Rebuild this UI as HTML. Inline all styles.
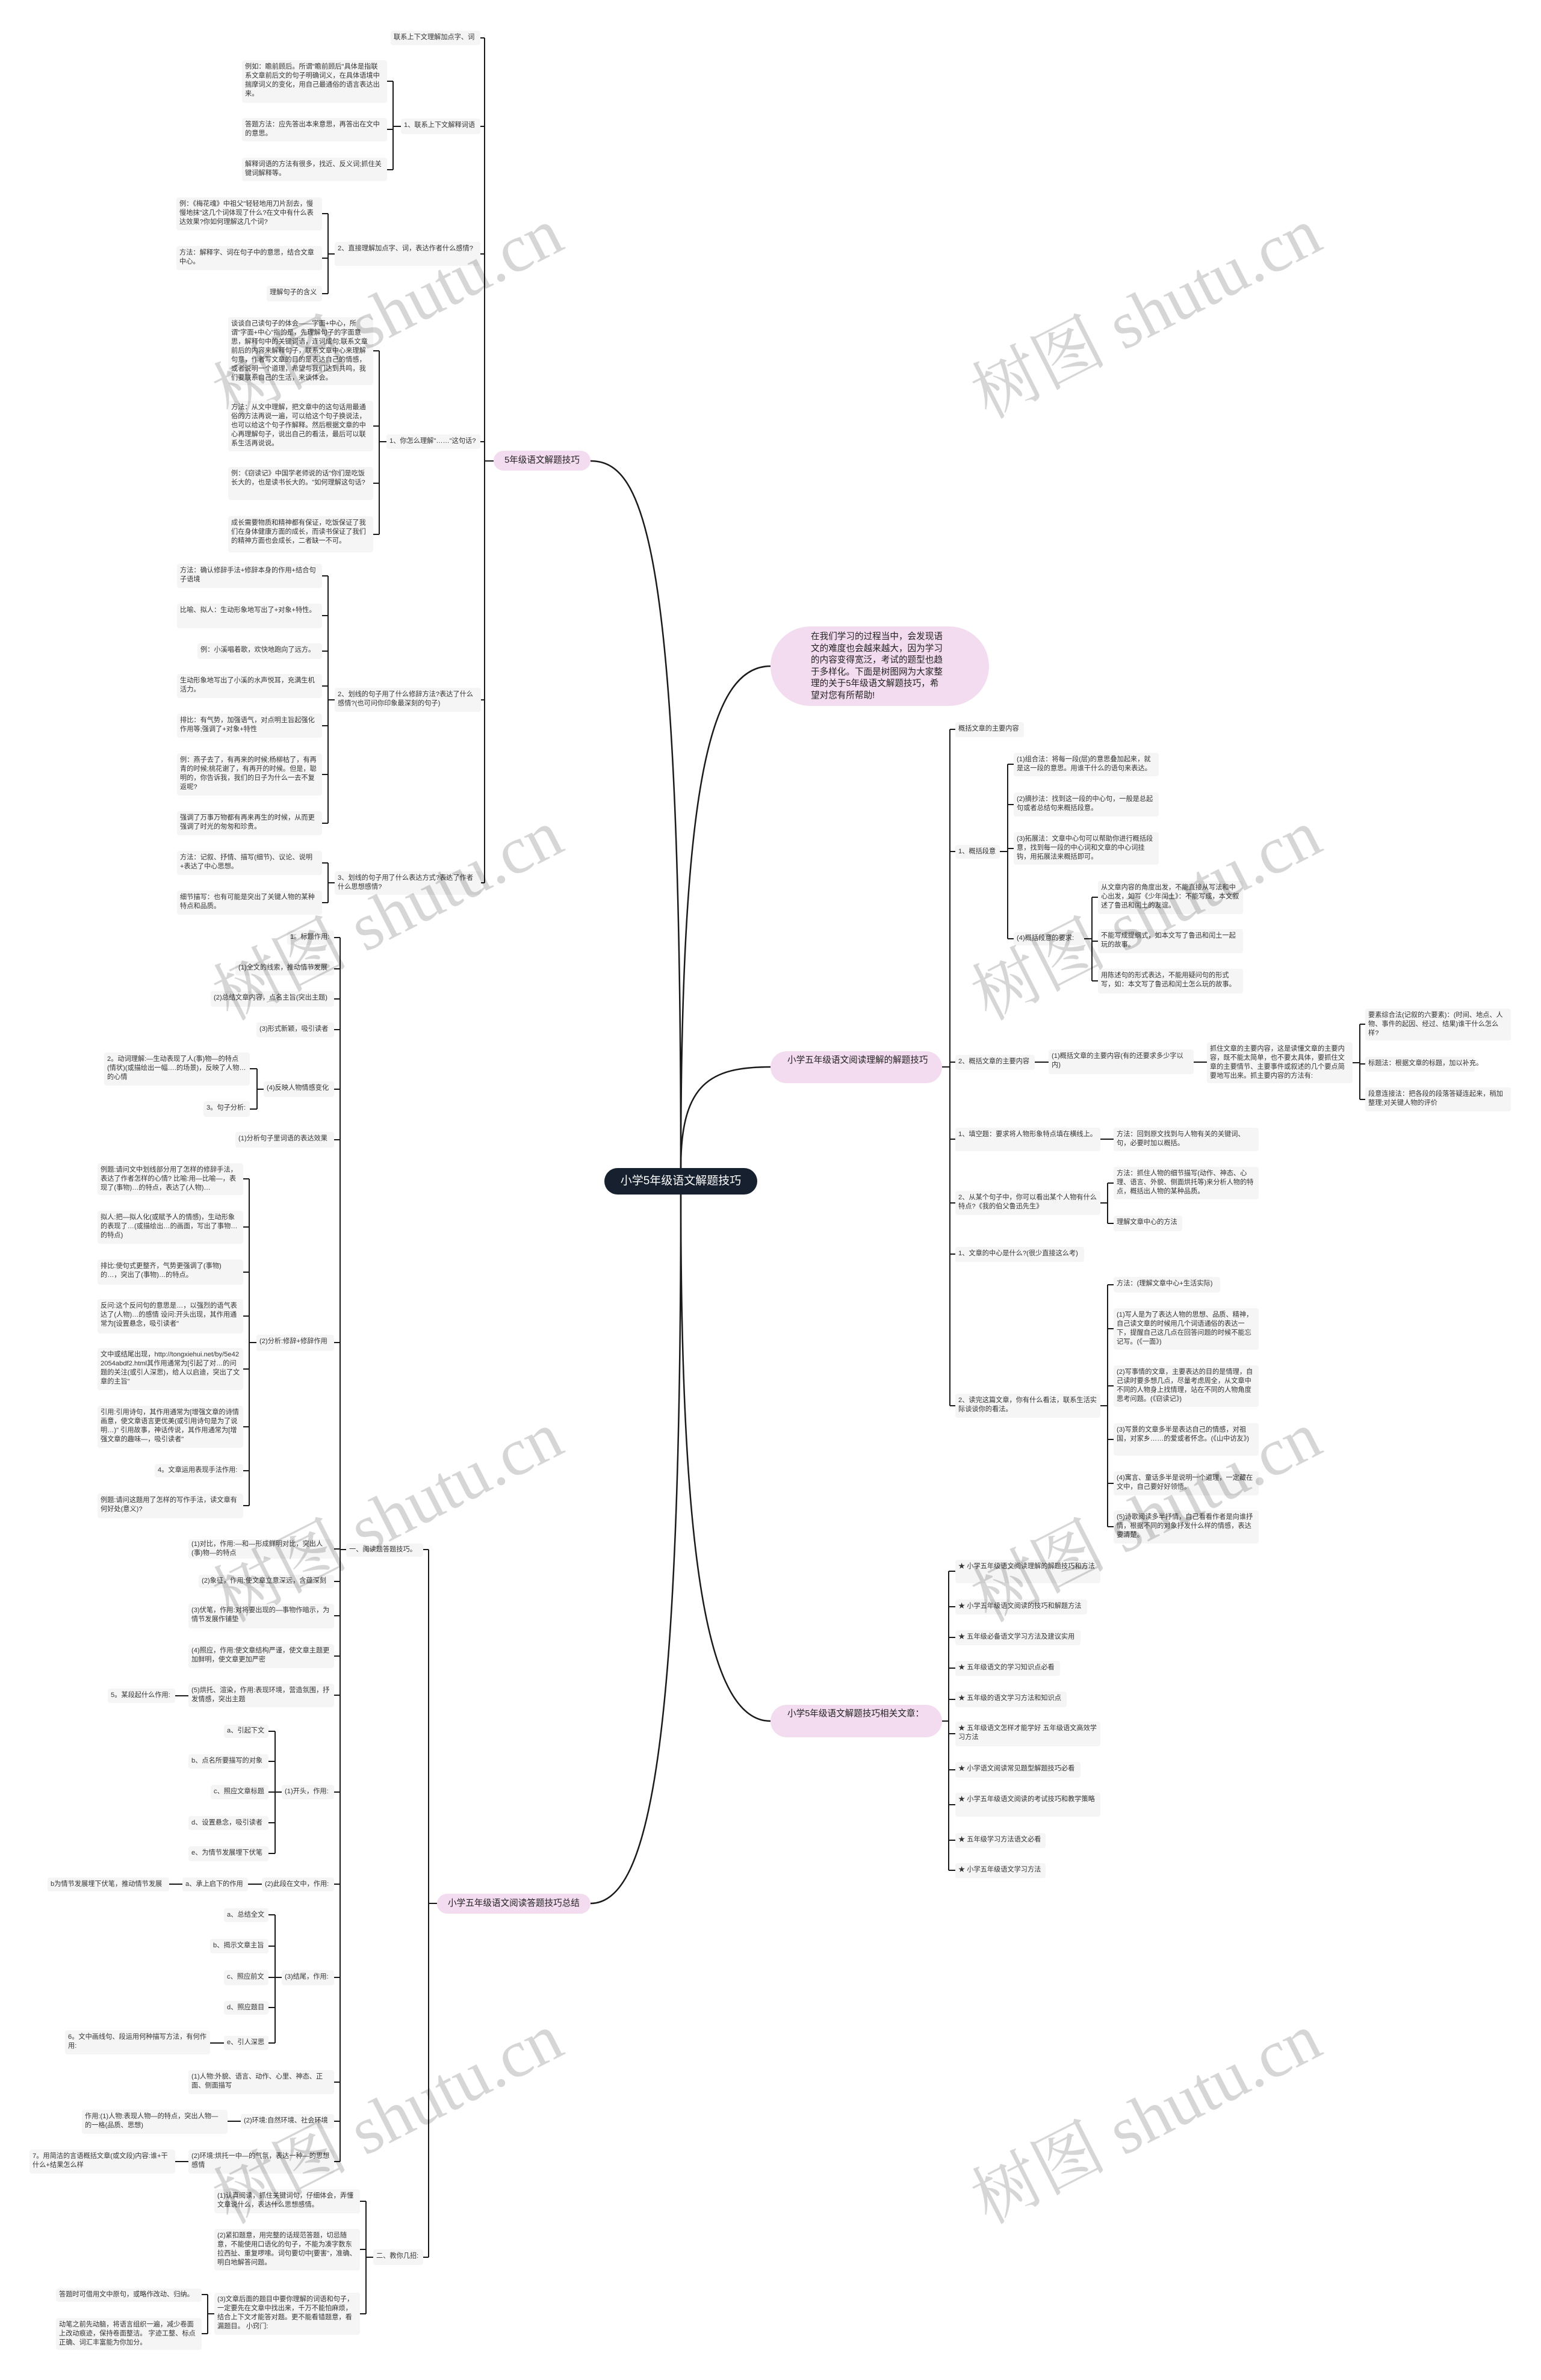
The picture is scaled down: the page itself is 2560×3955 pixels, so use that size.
<!DOCTYPE html>
<html><head><meta charset="utf-8"><style>
html,body{margin:0;padding:0;background:#fff;}
body{width:2560px;height:3955px;position:relative;overflow:hidden;font-family:"Liberation Sans","Noto Sans CJK SC",sans-serif;}
.n{position:absolute;background:#f5f5f5;border-radius:4px;font-size:11.2px;line-height:15px;color:#333;padding:4px 5px;box-sizing:border-box;word-break:break-all;overflow:visible;}
.n[style*="height:2"]{white-space:nowrap;}
.b{position:absolute;background:#f3dcef;border-radius:30px;font-size:14.6px;line-height:19.5px;color:#222;box-sizing:border-box;word-break:break-all;}
.wm{position:absolute;font-family:"Liberation Serif","Noto Serif CJK SC",serif;font-size:112px;color:rgba(0,0,0,0.16);white-space:nowrap;transform:translate(-50%,-50%) rotate(-27deg);z-index:5;}
svg{position:absolute;left:0;top:0;}
</style></head><body>
<svg width="2560" height="3955" fill="none" stroke="#1a1a1a" stroke-width="2">
<path d="M981,766 C1070,766 1131,900 1131,1941" stroke-width="2.5"/>
<path d="M1131,1941 C1131,1300 1180,1107 1280,1107" stroke-width="2.5"/>
<path d="M1131,1941 C1131,1800 1180,1773 1280,1773" stroke-width="2.5"/>
<path d="M1131,1985 C1131,2620 1180,2860 1280,2860" stroke-width="2.5"/>
<path d="M1131,1985 C1131,2900 1080,3163 981,3163" stroke-width="2.5"/>
<path d="M820,766 H805 M805,63 V1467 M798,63 H805 M798,210 H805 M798,422 H805 M798,734 H805 M798,1163 H805 M798,1467 H805"/>
<path d="M666,210 H653 M653,135 V282 M643,135 H653 M643,215 H653 M643,282 H653"/>
<path d="M556,422 H545 M545,355 V488 M535,355 H545 M535,429 H545 M535,488 H545"/>
<path d="M642,734 H630 M630,583 V888 M620,583 H630 M620,708 H630 M620,803 H630 M620,888 H630"/>
<path d="M556,1163 H545 M545,957 V1368 M535,957 H545 M535,1023 H545 M535,1082 H545 M535,1140 H545 M535,1206 H545 M535,1287 H545 M535,1368 H545"/>
<path d="M556,1467 H545 M545,1434 V1500 M535,1434 H545 M535,1500 H545"/>
<path d="M726,3163 H712 M712,2575 V3751 M703,2575 H712 M703,3751 H712"/>
<path d="M575,2575 H565 M565,1558 V3592 M555,1558 H565 M555,1610 H565 M555,1660 H565 M555,1711 H565 M555,1810 H565 M555,1894 H565 M555,2231 H565 M555,2574 H565 M555,2628 H565 M555,2685 H565 M555,2752 H565 M555,2817 H565 M555,2978 H565 M555,3131 H565 M555,3286 H565 M555,3460 H565 M555,3525 H565 M555,3592 H565"/>
<path d="M438,1810 H427 M427,1776 V1843 M415,1776 H427 M415,1843 H427"/>
<path d="M426,2231 H414 M414,1959 V2502 M404,1959 H414 M404,2039 H414 M404,2114 H414 M404,2187 H414 M404,2275 H414 M404,2371 H414 M404,2444 H414 M404,2502 H414"/>
<path d="M313,2818 H291"/>
<path d="M468,2978 H457 M457,2877 V3080 M446,2877 H457 M446,2927 H457 M446,2978 H457 M446,3029 H457 M446,3080 H457"/>
<path d="M435,3131 H412 M303,3131 H281"/>
<path d="M468,3286 H457 M457,3182 V3395 M446,3182 H457 M446,3234 H457 M446,3286 H457 M446,3336 H457 M446,3395 H457"/>
<path d="M372,3395 H349 M400,3525 H378 M313,3592 H291"/>
<path d="M620,3751 H608 M608,3658 V3845 M598,3658 H608 M598,3738 H608 M598,3845 H608"/>
<path d="M356,3845 H345 M345,3813 V3878 M335,3813 H345 M335,3878 H345"/>
<path d="M1565,1773 H1578 M1578,1212 V2336 M1587,1212 H1578 M1587,1415 H1578 M1587,1765 H1578 M1587,1893 H1578 M1587,1999 H1578 M1587,2084 H1578 M1587,2336 H1578"/>
<path d="M1661,1415 H1674 M1674,1270 V1560 M1684,1270 H1674 M1684,1337 H1674 M1684,1410 H1674 M1684,1560 H1674"/>
<path d="M1801,1560 H1814 M1814,1491 V1630 M1824,1491 H1814 M1824,1564 H1814 M1824,1630 H1814"/>
<path d="M1719,1765 H1742 M1983,1765 H2005 M2247,1766 H2259 M2259,1702 V1827 M2268,1702 H2259 M2268,1768 H2259 M2268,1827 H2259"/>
<path d="M1828,1893 H1850"/>
<path d="M1828,1999 H1840 M1840,1966 V2033 M1850,1966 H1840 M1850,2033 H1840"/>
<path d="M1828,2336 H1840 M1840,2135 V2537 M1850,2135 H1840 M1850,2208 H1840 M1850,2303 H1840 M1850,2392 H1840 M1850,2465 H1840 M1850,2537 H1840"/>
<path d="M1565,2860 H1576 M1576,2611 V3108 M1587,2611 H1576 M1587,2670 H1576 M1587,2721 H1576 M1587,2772 H1576 M1587,2824 H1576 M1587,2881 H1576 M1587,2941 H1576 M1587,2999 H1576 M1587,3058 H1576 M1587,3108 H1576"/>
</svg>

<div style="position:absolute;left:1004px;top:1941px;width:254px;height:44px;background:#17202e;border-radius:22px;color:#fff;font-size:19px;line-height:44px;text-align:center;">小学5年级语文解题技巧</div>

<div class="b" style="left:820px;top:749px;width:161px;height:33px;line-height:33px;text-align:center;">5年级语文解题技巧</div>
<div class="b" style="left:1280px;top:1041px;width:363px;height:132px;border-radius:66px;padding:8px 70px 0 67px;">在我们学习的过程当中，会发现语文的难度也会越来越大，因为学习的内容变得宽泛，考试的题型也趋于多样化。下面是树图网为大家整理的关于5年级语文解题技巧，希望对您有所帮助!</div>
<div class="b" style="left:1280px;top:1747px;width:285px;height:53px;padding:6px 20px 0 28px;">小学五年级语文阅读理解的解题技巧</div>
<div class="b" style="left:726px;top:3147px;width:255px;height:33px;line-height:33px;text-align:center;">小学五年级语文阅读答题技巧总结</div>
<div class="b" style="left:1280px;top:2833px;width:285px;height:54px;padding:6px 20px 0 28px;">小学5年级语文解题技巧相关文章：</div>

<div class="n" style="left:649px;top:51px;width:149px;height:24px;">联系上下文理解加点字、词</div>
<div class="n" style="left:666px;top:197px;width:132px;height:26px;">1、联系上下文解释词语</div>
<div class="n" style="left:402px;top:100px;width:241px;height:71px;">例如：瞻前顾后。所谓"瞻前顾后"具体是指联系文章前后文的句子明确词义，在具体语境中揣摩词义的变化，用自己最通俗的语言表达出来。</div>
<div class="n" style="left:402px;top:196px;width:241px;height:39px;">答题方法：应先答出本来意思，再答出在文中的意思。</div>
<div class="n" style="left:402px;top:262px;width:241px;height:39px;">解释词语的方法有很多，找近、反义词;抓住关键词解释等。</div>
<div class="n" style="left:556px;top:402px;width:242px;height:40px;">2、直接理解加点字、词，表达作者什么感情?</div>
<div class="n" style="left:293px;top:328px;width:242px;height:55px;">例：《梅花魂》中祖父"轻轻地用刀片刮去，慢慢地抹"这几个词体现了什么?在文中有什么表达效果?你如何理解这几个词?</div>
<div class="n" style="left:293px;top:409px;width:242px;height:40px;">方法：解释字、词在句子中的意思，结合文章中心。</div>
<div class="n" style="left:443px;top:475px;width:92px;height:26px;">理解句子的含义</div>
<div class="n" style="left:642px;top:722px;width:156px;height:24px;">1、你怎么理解"……"这句话?</div>
<div class="n" style="left:379px;top:527px;width:241px;height:113px;">谈谈自己读句子的体会——字面+中心，所谓"字面+中心"指的是，先理解句子的字面意思，解释句中的关键词语，连词成句;联系文章前后的内容来解释句子，联系文章中心来理解句意，作者写文章的目的是表达自己的情感，或者说明一个道理，希望与我们达到共鸣，我们要联系自己的生活，来谈体会。</div>
<div class="n" style="left:379px;top:666px;width:241px;height:84px;">方法：从文中理解，把文章中的这句话用最通俗的方法再说一遍，可以给这个句子换说法，也可以给这个句子作解释。然后根据文章的中心再理解句子，说出自己的看法，最后可以联系生活再说说。</div>
<div class="n" style="left:379px;top:776px;width:241px;height:55px;">例：《窃读记》中国学老师说的话"你们是吃饭长大的，也是读书长大的。"如何理解这句话?</div>
<div class="n" style="left:379px;top:858px;width:241px;height:60px;">成长需要物质和精神都有保证，吃饭保证了我们在身体健康方面的成长，而读书保证了我们的精神方面也会成长，二者缺一不可。</div>
<div class="n" style="left:556px;top:1143px;width:243px;height:40px;">2、划线的句子用了什么修辞方法?表达了什么感情?(也可问你印象最深刻的句子)</div>
<div class="n" style="left:294px;top:937px;width:241px;height:40px;">方法：确认修辞手法+修辞本身的作用+结合句子语境</div>
<div class="n" style="left:294px;top:1003px;width:241px;height:41px;">比喻、拟人：生动形象地写出了+对象+特性。</div>
<div class="n" style="left:328px;top:1069px;width:207px;height:26px;">例：小溪唱着歌，欢快地跑向了远方。</div>
<div class="n" style="left:294px;top:1120px;width:241px;height:40px;">生动形象地写出了小溪的水声悦耳，充满生机活力。</div>
<div class="n" style="left:294px;top:1186px;width:241px;height:40px;">排比：有气势，加强语气，对点明主旨起强化作用等;强调了+对象+特性</div>
<div class="n" style="left:294px;top:1252px;width:241px;height:70px;">例：燕子去了，有再来的时候;杨柳枯了，有再青的时候;桃花谢了，有再开的时候。但是，聪明的，你告诉我，我们的日子为什么一去不复返呢?</div>
<div class="n" style="left:294px;top:1348px;width:241px;height:40px;">强调了万事万物都有再来再生的时候，从而更强调了时光的匆匆和珍贵。</div>
<div class="n" style="left:556px;top:1448px;width:243px;height:39px;">3、划线的句子用了什么表达方式?表达了作者什么思想感情?</div>
<div class="n" style="left:294px;top:1414px;width:241px;height:40px;">方法：记叙、抒情、描写(细节)、议论、说明+表达了中心思想。</div>
<div class="n" style="left:294px;top:1480px;width:241px;height:40px;">细节描写：也有可能是突出了关键人物的某种特点和品质。</div>

<div class="n" style="left:575px;top:2565px;width:128px;height:22px;padding-top:3px;">一、阅读题答题技巧。</div>
<div class="n" style="left:620px;top:3738px;width:83px;height:26px;">二、教你几招:</div>
<div class="n" style="left:477px;top:1546px;width:78px;height:24px;">1。标题作用:</div>
<div class="n" style="left:391px;top:1597px;width:164px;height:24px;">(1)全文的线索，推动情节发展</div>
<div class="n" style="left:350px;top:1647px;width:205px;height:26px;">(2)总结文章内容，点名主旨(突出主题)</div>
<div class="n" style="left:426px;top:1699px;width:129px;height:25px;">(3)形式新颖，吸引读者</div>
<div class="n" style="left:438px;top:1797px;width:117px;height:26px;">(4)反映人物情感变化</div>
<div class="n" style="left:173px;top:1749px;width:242px;height:55px;">2。动词理解:—生动表现了人(事)物—的特点(情状)(或描绘出一幅….的场景)，反映了人物…的心情</div>
<div class="n" style="left:338px;top:1830px;width:77px;height:26px;">3。句子分析:</div>
<div class="n" style="left:391px;top:1881px;width:164px;height:26px;">(1)分析句子里词语的表达效果</div>
<div class="n" style="left:426px;top:2218px;width:129px;height:27px;">(2)分析:修辞+修辞作用</div>
<div class="n" style="left:162px;top:1933px;width:242px;height:53px;">例题:请问文中划线部分用了怎样的修辞手法，表达了作者怎样的心情? 比喻:用—比喻—，表现了(事物)…的特点，表达了(人物)…</div>
<div class="n" style="left:162px;top:2012px;width:242px;height:55px;">拟人:把—拟人化(或赋予人的情感)，生动形象的表现了…(或描绘出…的画面，写出了事物…的特点)</div>
<div class="n" style="left:162px;top:2093px;width:242px;height:42px;">排比:使句式更整齐，气势更强调了(事物)的…，突出了(事物)…的特点。</div>
<div class="n" style="left:162px;top:2159px;width:242px;height:57px;">反问:这个反问句的意思是…，以强烈的语气表达了(人物)…的感情 设问:开头出现，其作用通常为[设置悬念，吸引读者"</div>
<div class="n" style="left:162px;top:2240px;width:242px;height:70px;">文中或结尾出现，http://tongxiehui.net/by/5e422054abdf2.html其作用通常为[引起了对…的问题的关注(或引人深思)，给人以启迪，突出了文章的主旨"</div>
<div class="n" style="left:162px;top:2336px;width:242px;height:70px;">引用:引用诗句，其作用通常为[增强文章的诗情画意，使文章语言更优美(或引用诗句是为了说明…)" 引用故事，神话传说，其作用通常为[增强文章的趣味—，吸引读者"</div>
<div class="n" style="left:257px;top:2433px;width:147px;height:22px;padding-top:3px;">4。文章运用表现手法作用:</div>
<div class="n" style="left:162px;top:2482px;width:242px;height:41px;">例题:请问这题用了怎样的写作手法，读文章有何好处(意义)?</div>
<div class="n" style="left:313px;top:2558px;width:242px;height:32px;padding-top:1px;">(1)对比，作用:—和—形成鲜明对比，突出人(事)物—的特点</div>
<div class="n" style="left:330px;top:2617px;width:225px;height:22px;padding-top:3px;">(2)象征，作用:使文章立意深远，含蕴深刻</div>
<div class="n" style="left:313px;top:2665px;width:242px;height:41px;">(3)伏笔，作用:对将要出现的—事物作暗示，为情节发展作铺垫</div>
<div class="n" style="left:313px;top:2732px;width:242px;height:40px;">(4)照应，作用:使文章结构严谨，使文章主题更加鲜明，使文章更加严密</div>
<div class="n" style="left:313px;top:2798px;width:242px;height:39px;">(5)烘托、渲染，作用:表现环境，营造氛围，抒发情感，突出主题</div>
<div class="n" style="left:179px;top:2806px;width:112px;height:24px;">5。某段起什么作用:</div>
<div class="n" style="left:468px;top:2966px;width:87px;height:24px;">(1)开头，作用:</div>
<div class="n" style="left:372px;top:2866px;width:74px;height:22px;padding-top:3px;">a、引起下文</div>
<div class="n" style="left:313px;top:2915px;width:133px;height:24px;">b、点名所要描写的对象</div>
<div class="n" style="left:350px;top:2966px;width:96px;height:24px;">c、照应文章标题</div>
<div class="n" style="left:313px;top:3018px;width:133px;height:23px;">d、设置悬念，吸引读者</div>
<div class="n" style="left:313px;top:3068px;width:133px;height:25px;">e、为情节发展埋下伏笔</div>
<div class="n" style="left:435px;top:3120px;width:120px;height:23px;">(2)此段在文中，作用:</div>
<div class="n" style="left:303px;top:3120px;width:109px;height:23px;">a、承上启下的作用</div>
<div class="n" style="left:79px;top:3120px;width:202px;height:23px;">b为情节发展埋下伏笔，推动情节发展</div>
<div class="n" style="left:468px;top:3274px;width:87px;height:25px;">(3)结尾，作用:</div>
<div class="n" style="left:372px;top:3171px;width:74px;height:23px;">a、总结全文</div>
<div class="n" style="left:349px;top:3222px;width:97px;height:24px;">b、揭示文章主旨</div>
<div class="n" style="left:372px;top:3274px;width:74px;height:25px;">c、照应前文</div>
<div class="n" style="left:372px;top:3325px;width:74px;height:23px;">d、照应题目</div>
<div class="n" style="left:372px;top:3383px;width:74px;height:24px;">e、引人深思</div>
<div class="n" style="left:108px;top:3374px;width:241px;height:40px;">6。文中画线句、段运用何种描写方法，有何作用:</div>
<div class="n" style="left:313px;top:3440px;width:242px;height:40px;">(1)人物:外貌、语言、动作、心里、神态、正面、侧面描写</div>
<div class="n" style="left:400px;top:3513px;width:155px;height:24px;">(2)环境:自然环境、社会环境</div>
<div class="n" style="left:136px;top:3506px;width:242px;height:40px;">作用:(1)人物:表现人物—的特点，突出人物—的一格(品质、思想)</div>
<div class="n" style="left:313px;top:3572px;width:242px;height:40px;">(2)环境:烘托一中—的气氛，表达一种—的思想感情</div>
<div class="n" style="left:49px;top:3572px;width:242px;height:40px;">7。用简洁的言语概括文章(或文段)内容:谁+干什么+结果怎么样</div>
<div class="n" style="left:356px;top:3638px;width:242px;height:40px;">(1)认真阅读，抓住关键词句，仔细体会，弄懂文章说什么，表达什么思想感情。</div>
<div class="n" style="left:356px;top:3704px;width:242px;height:69px;">(2)紧扣题意，用完整的话规范答题，切忌随意，不能使用口语化的句子，不能为凑字数东拉西扯、重复啰嗦。词句要切中[要害"，准确、明白地解答问题。</div>
<div class="n" style="left:356px;top:3810px;width:242px;height:70px;">(3)文章后面的题目中要你理解的词语和句子，一定要先在文章中找出来，千万不能怕麻烦，结合上下文才能答对题。更不能看错题意，看漏题目。 小窍门:</div>
<div class="n" style="left:93px;top:3803px;width:242px;height:22px;padding-top:3px;">答题时可借用文中原句，或略作改动、归纳。</div>
<div class="n" style="left:93px;top:3852px;width:242px;height:53px;">动笔之前先动脑，将语言组织一遍，减少卷面上改动痕迹，保持卷面整洁。 字迹工整、标点正确、词汇丰富能为你加分。</div>

<div class="n" style="left:1587px;top:1200px;width:114px;height:25px;">概括文章的主要内容</div>
<div class="n" style="left:1587px;top:1404px;width:74px;height:23px;">1、概括段意</div>
<div class="n" style="left:1684px;top:1251px;width:241px;height:39px;">(1)组合法：将每一段(层)的意思叠加起来，就是这一段的意思。用谁干什么的语句来表达。</div>
<div class="n" style="left:1684px;top:1317px;width:241px;height:40px;">(2)摘抄法：找到这一段的中心句，一般是总起句或者总结句来概括段意。</div>
<div class="n" style="left:1684px;top:1383px;width:241px;height:54px;">(3)拓展法：文章中心句可以帮助你进行概括段意，找到每一段的中心词和文章的中心词挂钩，用拓展法来概括即可。</div>
<div class="n" style="left:1684px;top:1549px;width:117px;height:22px;padding-top:3px;">(4)概括段意的要求:</div>
<div class="n" style="left:1824px;top:1464px;width:241px;height:55px;">从文章内容的角度出发，不能直接从写法和中心出发，如写《少年闰土》：不能写成，本文叙述了鲁迅和闰土的友谊。</div>
<div class="n" style="left:1824px;top:1544px;width:241px;height:40px;">不能写成提纲式，如本文写了鲁迅和闰土一起玩的故事。</div>
<div class="n" style="left:1824px;top:1610px;width:241px;height:41px;">用陈述句的形式表达，不能用疑问句的形式写，如：本文写了鲁迅和闰土怎么玩的故事。</div>
<div class="n" style="left:1587px;top:1753px;width:132px;height:25px;">2、概括文章的主要内容</div>
<div class="n" style="left:1742px;top:1744px;width:241px;height:41px;">(1)概括文章的主要内容(有的还要求多少字以内)</div>
<div class="n" style="left:2005px;top:1732px;width:242px;height:68px;">抓住文章的主要内容，这是读懂文章的主要内容，既不能太简单，也不要太具体，要抓住文章的主要情节、主要事件或叙述的几个要点简要地写出来。抓主要内容的方法有:</div>
<div class="n" style="left:2268px;top:1676px;width:242px;height:53px;">要素综合法(记叙的六要素)：(时间、地点、人物、事件的起因、经过、结果)谁干什么怎么样?</div>
<div class="n" style="left:2268px;top:1756px;width:182px;height:25px;">标题法：根据文章的标题，加以补充。</div>
<div class="n" style="left:2268px;top:1807px;width:242px;height:40px;">段意连接法：把各段的段落答疑连起来，稍加整理;对关键人物的评价</div>
<div class="n" style="left:1587px;top:1874px;width:241px;height:39px;">1、填空题：要求将人物形象特点填在横线上。</div>
<div class="n" style="left:1850px;top:1874px;width:241px;height:39px;">方法：回到原文找到与人物有关的关键词、句，必要时加以概括。</div>
<div class="n" style="left:1587px;top:1979px;width:241px;height:40px;">2、从某个句子中，你可以看出某个人物有什么特点?《我的伯父鲁迅先生》</div>
<div class="n" style="left:1850px;top:1939px;width:241px;height:54px;">方法：抓住人物的细节描写(动作、神态、心理、语言、外貌、侧面烘托等)来分析人物的特点，概括出人物的某种品质。</div>
<div class="n" style="left:1850px;top:2020px;width:114px;height:26px;">理解文章中心的方法</div>
<div class="n" style="left:1587px;top:2072px;width:214px;height:25px;">1、文章的中心是什么?(很少直接这么考)</div>
<div class="n" style="left:1587px;top:2316px;width:241px;height:40px;">2、读完这篇文章，你有什么看法，联系生活实际谈谈你的看法。</div>
<div class="n" style="left:1850px;top:2122px;width:177px;height:26px;">方法：(理解文章中心+生活实际)</div>
<div class="n" style="left:1850px;top:2174px;width:241px;height:69px;">(1)写人是为了表达人物的思想、品质、精神，自己读文章的时候用几个词语通俗的表达一下，提醒自己这几点在回答问题的时候不能忘记写。(《一面》)</div>
<div class="n" style="left:1850px;top:2269px;width:241px;height:69px;">(2)写事情的文章，主要表达的目的是情理，自己读时要多想几点，尽量考虑周全，从文章中不同的人物身上找情理，站在不同的人物角度思考问题。(《窃读记》)</div>
<div class="n" style="left:1850px;top:2365px;width:241px;height:54px;">(3)写景的文章多半是表达自己的情感，对祖国，对家乡……的爱或者怀念。(《山中访友》)</div>
<div class="n" style="left:1850px;top:2445px;width:241px;height:40px;">(4)寓言、童话多半是说明一个道理，一定藏在文中，自己要好好领悟。</div>
<div class="n" style="left:1850px;top:2510px;width:241px;height:55px;">(5)诗歌阅读多半抒情，自己看看作者是向谁抒情，根据不同的对象抒发什么样的情感，表达要清楚。</div>

<div class="n" style="left:1587px;top:2592px;width:241px;height:39px;">★ 小学五年级语文阅读理解的解题技巧和方法</div>
<div class="n" style="left:1587px;top:2658px;width:219px;height:25px;">★ 小学五年级语文阅读的技巧和解题方法</div>
<div class="n" style="left:1587px;top:2709px;width:208px;height:25px;">★ 五年级必备语文学习方法及建议实用</div>
<div class="n" style="left:1587px;top:2760px;width:174px;height:25px;">★ 五年级语文的学习知识点必看</div>
<div class="n" style="left:1587px;top:2811px;width:185px;height:26px;">★ 五年级的语文学习方法和知识点</div>
<div class="n" style="left:1587px;top:2861px;width:241px;height:41px;">★ 五年级语文怎样才能学好 五年级语文高效学习方法</div>
<div class="n" style="left:1587px;top:2928px;width:208px;height:26px;">★ 小学语文阅读常见题型解题技巧必看</div>
<div class="n" style="left:1587px;top:2979px;width:241px;height:40px;">★ 小学五年级语文阅读的考试技巧和教学策略</div>
<div class="n" style="left:1587px;top:3046px;width:150px;height:25px;">★ 五年级学习方法语文必看</div>
<div class="n" style="left:1587px;top:3096px;width:150px;height:25px;">★ 小学五年级语文学习方法</div>

<div class="wm" style="left:640px;top:512px;">树图 shutu.cn</div>
<div class="wm" style="left:1900px;top:512px;">树图 shutu.cn</div>
<div class="wm" style="left:640px;top:1512px;">树图 shutu.cn</div>
<div class="wm" style="left:1900px;top:1512px;">树图 shutu.cn</div>
<div class="wm" style="left:640px;top:2512px;">树图 shutu.cn</div>
<div class="wm" style="left:1900px;top:2512px;">树图 shutu.cn</div>
<div class="wm" style="left:640px;top:3512px;">树图 shutu.cn</div>
<div class="wm" style="left:1900px;top:3512px;">树图 shutu.cn</div>
</body></html>
